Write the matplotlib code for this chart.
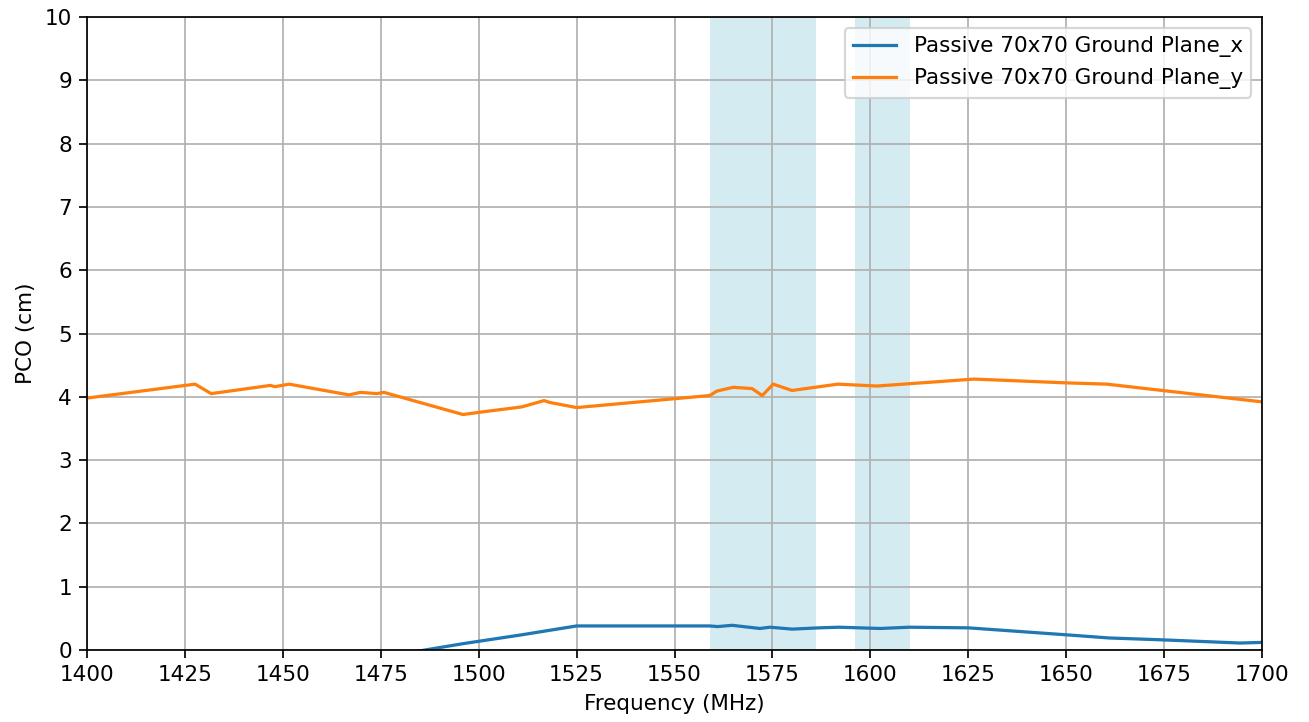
import matplotlib
matplotlib.use("Agg")
import matplotlib.pyplot as plt

freq_x = [1400, 1428, 1452, 1476, 1486.3, 1496, 1511, 1525, 1559, 1561, 1564.7, 1571.8,
          1574.4, 1580, 1587, 1592, 1602.5, 1610, 1625, 1650, 1661, 1674.7, 1694.4, 1700]
pco_x = [-0.8, -0.55, -0.35, -0.12, 0.0, 0.1, 0.24, 0.38, 0.38, 0.37, 0.39, 0.34,
         0.36, 0.33, 0.35, 0.36, 0.34, 0.36, 0.35, 0.24, 0.19, 0.16, 0.11, 0.12]

freq_y = [1400, 1427.6, 1431.7, 1446.8, 1448, 1451.6, 1466.9, 1469.8, 1474, 1475.8,
          1496, 1502, 1511, 1516.7, 1518.2, 1525, 1559, 1560.8, 1565, 1569.8, 1572.4,
          1575.2, 1580, 1591.7, 1601.7, 1626.5, 1650, 1660.4, 1700]
pco_y = [3.98, 4.20, 4.05, 4.18, 4.16, 4.20, 4.03, 4.07, 4.05, 4.07,
         3.72, 3.77, 3.84, 3.94, 3.91, 3.83, 4.02, 4.09, 4.15, 4.13, 4.02,
         4.20, 4.10, 4.20, 4.17, 4.28, 4.22, 4.20, 3.92]

bands = [(1559, 1586), (1596, 1610)]
labels = ["Passive 70x70 Ground Plane_x", "Passive 70x70 Ground Plane_y"]

DPI = 155
fig = plt.figure(figsize=(1309/DPI, 722/DPI), dpi=DPI)
ax = fig.add_axes([87/1309, 1 - 650/722, (1262-87)/1309, (650-17)/722])

for lo, hi in bands:
    ax.axvspan(lo, hi, color="lightblue", alpha=0.5, lw=0)

ax.plot(freq_x, pco_x, color="#1f77b4", lw=1.5, label=labels[0])
ax.plot(freq_y, pco_y, color="#ff7f0e", lw=1.5, label=labels[1])

ax.set_xlim(1400, 1700)
ax.set_ylim(0, 10)
ax.set_xticks(range(1400, 1701, 25))
ax.set_yticks(range(0, 11))
ax.grid(True)
ax.set_xlabel("Frequency (MHz)")
ax.set_ylabel("PCO (cm)")
ax.legend(loc="upper right")

fig.savefig("out.png", dpi=DPI)
